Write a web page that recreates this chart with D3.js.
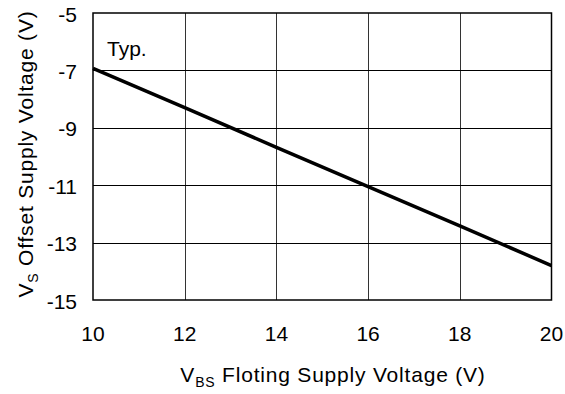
<!DOCTYPE html>
<html>
<head>
<meta charset="utf-8">
<script src="https://cdn.jsdelivr.net/npm/d3@7"></script>
<style>
  body { margin: 0; background: #fff; }
  text { font-family: "Liberation Sans", Arial, sans-serif; fill: #000; }
</style>
</head>
<body>
<svg id="chart" width="565" height="394"></svg>
<script>
// data
const vbs = [10, 12, 14, 16, 18, 20];
const vsOffset = [-6.93, -8.3, -9.68, -11.05, -12.42, -13.8];
const xTicks = [10, 12, 14, 16, 18, 20];
const yTicks = [-5, -7, -9, -11, -13, -15];

const margin = { left: 93, top: 13, right: 13, bottom: 94 };
const svg = d3.select("#chart");
const innerW = 551.5 - margin.left;
const innerH = 300 - margin.top;

const x = d3.scaleLinear().domain([10, 20]).range([margin.left, margin.left + innerW]);
const y = d3.scaleLinear().domain([-15, -5]).range([margin.top + innerH, margin.top]);

// grid
svg.append("g").selectAll("line")
  .data(xTicks.slice(1, -1))
  .enter().append("line")
  .attr("x1", d => Math.round(x(d)) + 0.5).attr("x2", d => Math.round(x(d)) + 0.5)
  .attr("y1", y(-5)).attr("y2", y(-15))
  .attr("stroke", "#333").attr("stroke-width", 1);

svg.append("g").selectAll("line")
  .data(yTicks.slice(1, -1))
  .enter().append("line")
  .attr("x1", x(10)).attr("x2", x(20))
  .attr("y1", d => Math.round(y(d)) + 0.5).attr("y2", d => Math.round(y(d)) + 0.5)
  .attr("stroke", "#000").attr("stroke-width", 1);

// frame
svg.append("rect")
  .attr("x", x(10)).attr("y", y(-5))
  .attr("width", x(20) - x(10)).attr("height", y(-15) - y(-5))
  .attr("fill", "none").attr("stroke", "#000").attr("stroke-width", 1.5);

// tick labels
svg.append("g").selectAll("text")
  .data(xTicks)
  .enter().append("text")
  .attr("x", d => x(d)).attr("y", 341)
  .attr("text-anchor", "middle")
  .style("font-size", "21px")
  .text(d => d);

svg.append("g").selectAll("text")
  .data(yTicks)
  .enter().append("text")
  .attr("x", 77).attr("y", d => y(d) + 8.5)
  .attr("text-anchor", "end")
  .style("font-size", "21px")
  .text(d => d);

// curve
const line = d3.line().x((d, i) => x(vbs[i])).y(d => y(d));
svg.append("path")
  .datum(vsOffset)
  .attr("d", line)
  .attr("fill", "none")
  .attr("stroke", "#000")
  .attr("stroke-width", 3.5);

svg.append("text")
  .attr("x", 107).attr("y", 56)
  .style("font-size", "21px")
  .text("Typ.");

// axis titles
const xt = svg.append("text")
  .attr("x", 333).attr("y", 382)
  .attr("text-anchor", "middle")
  .style("font-size", "21px")
  .style("letter-spacing", "0.8px");
xt.append("tspan").text("V");
xt.append("tspan").attr("dy", 5).style("font-size", "14px").text("BS");
xt.append("tspan").attr("dy", -5).text(" Floting Supply Voltage (V)");

const yt = svg.append("text")
  .attr("transform", `translate(33,154) rotate(-90)`)
  .attr("text-anchor", "middle")
  .style("font-size", "21px")
  .style("letter-spacing", "0.8px");
yt.append("tspan").text("V");
yt.append("tspan").attr("dy", 5).style("font-size", "14px").text("S");
yt.append("tspan").attr("dy", -5).text(" Offset Supply Voltage (V)");
</script>
</body>
</html>
